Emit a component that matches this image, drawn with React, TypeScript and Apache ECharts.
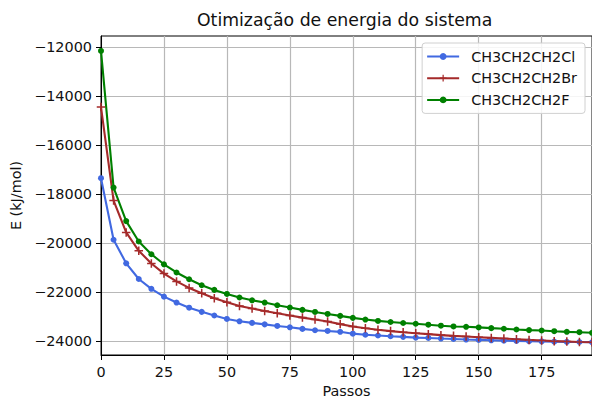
import React, { useEffect, useRef } from "react";
import * as echarts from "echarts";

const steps = [
  0, 5, 10, 15, 20, 25, 30, 35, 40, 45, 50, 55, 60, 65, 70, 75, 80, 85, 90, 95,
  100, 105, 110, 115, 120, 125, 130, 135, 140, 145, 150, 155, 160, 165, 170, 175, 180, 185, 190, 195,
];

const clValues = [
  -17350, -19860, -20820, -21460, -21860, -22180, -22420, -22630, -22800, -22950,
  -23090, -23185, -23250, -23310, -23375, -23430, -23495, -23550, -23580, -23615,
  -23690, -23735, -23765, -23795, -23820, -23850, -23865, -23890, -23905, -23930,
  -23945, -23960, -23975, -23985, -24000, -24005, -24015, -24025, -24030, -24040,
];

const brValues = [
  -14450, -18260, -19560, -20310, -20830, -21240, -21560, -21825, -22040, -22245,
  -22410, -22560, -22665, -22765, -22860, -22950, -23035, -23115, -23195, -23300,
  -23400, -23470, -23530, -23585, -23630, -23670, -23710, -23750, -23780, -23808,
  -23835, -23862, -23890, -23917, -23945, -23970, -23995, -24012, -24028, -24040,
];

const fValues = [
  -12160, -17730, -19100, -19930, -20450, -20860, -21195, -21470, -21715, -21905,
  -22070, -22215, -22330, -22420, -22530, -22625, -22720, -22805, -22885, -22965,
  -23045, -23115, -23170, -23215, -23255, -23285, -23325, -23365, -23395, -23410,
  -23435, -23465, -23490, -23520, -23545, -23560, -23590, -23615, -23630, -23655,
];

const seriesNames = ["CH3CH2CH2Cl", "CH3CH2CH2Br", "CH3CH2CH2F"];
const yTicks = [-24000, -22000, -20000, -18000, -16000, -14000, -12000];

const FONT = "DejaVu Sans";
const FS = 14.4;
const PLUS =
  "path://M4.1,0 H5.9 V4.1 H10 V5.9 H5.9 V10 H4.1 V5.9 H0 V4.1 H4.1 Z";

export default function App() {
  const ref = useRef<HTMLDivElement>(null);
  useEffect(() => {
    if (!ref.current) return;
    const chart = echarts.init(ref.current, undefined, { renderer: "svg" });
    const mk = (arr: number[]) => steps.map((s, i) => [s, arr[i]]);
    chart.setOption({
      animation: false,
      backgroundColor: "#ffffff",
      textStyle: { fontFamily: FONT },
      title: {
        text: "Otimização de energia do sistema",
        left: 197,
        top: 11,
        padding: 0,
        textStyle: { fontFamily: FONT, fontSize: 17.3, fontWeight: "normal", color: "#111" },
      },
      legend: {
        orient: "vertical",
        right: 7,
        top: 43,
        padding: [5, 8, 5, 4],
        itemWidth: 32,
        itemHeight: 8.5,
        itemGap: 4.7,
        backgroundColor: "rgba(255,255,255,0.85)",
        borderColor: "#d0d0d0",
        borderWidth: 1,
        borderRadius: 3,
        textStyle: {
          fontFamily: FONT,
          fontSize: FS,
          lineHeight: 17,
          color: "#111",
          padding: [0, 0, 0, 7],
        },
        data: seriesNames,
      },
      grid: {
        left: 101,
        right: 0,
        top: 36,
        bottom: 43,
        show: true,
        borderColor: "#000",
        borderWidth: 1,
        containLabel: false,
        outerBoundsMode: "none",
      },
      xAxis: {
        type: "value",
        min: 0,
        max: 195,
        interval: 25,
        name: "Passos",
        nameLocation: "middle",
        nameGap: 29,
        nameTextStyle: { fontFamily: FONT, fontSize: FS, color: "#111" },
        axisLine: { show: true, lineStyle: { color: "#000", width: 1 } },
        axisTick: { show: true, inside: false, length: 5, lineStyle: { color: "#000", width: 1 } },
        axisLabel: { fontFamily: FONT, fontSize: FS, color: "#111", margin: 10, showMaxLabel: false },
        splitLine: { show: true, lineStyle: { color: "#b8b8b8", width: 1.2 } },
      },
      yAxis: {
        type: "value",
        min: -24560,
        max: -11550,
        name: "E (kJ/mol)",
        nameLocation: "middle",
        nameGap: 72,
        nameTextStyle: { fontFamily: FONT, fontSize: FS, color: "#111" },
        axisLine: { show: true, lineStyle: { color: "#000", width: 1 } },
        axisTick: {
          show: true,
          inside: false,
          length: 5,
          customValues: yTicks,
          lineStyle: { color: "#000", width: 1 },
        },
        axisLabel: {
          fontFamily: FONT,
          fontSize: FS,
          color: "#111",
          margin: 9,
          customValues: yTicks,
          formatter: (v: number) => String(v).replace("-", "\u2212"),
        },
        splitLine: { show: true, lineStyle: { color: "#b8b8b8", width: 1.2 } },
      },
      series: [
        {
          name: seriesNames[0],
          type: "line",
          data: mk(clValues),
          symbol: "circle",
          symbolSize: 6,
          showAllSymbol: true,
          lineStyle: { color: "#4169e1", width: 2.1 },
          itemStyle: { color: "#4169e1" },
        },
        {
          name: seriesNames[1],
          type: "line",
          data: mk(brValues),
          symbol: PLUS,
          symbolSize: 8.5,
          showAllSymbol: true,
          lineStyle: { color: "#a52a2a", width: 2.1 },
          itemStyle: { color: "#a52a2a" },
        },
        {
          name: seriesNames[2],
          type: "line",
          data: mk(fValues),
          symbol: "circle",
          symbolSize: 6,
          showAllSymbol: true,
          lineStyle: { color: "#008000", width: 2.1 },
          itemStyle: { color: "#008000" },
        },
      ],
    });
    return () => chart.dispose();
  }, []);
  return (
    <div
      ref={ref}
      style={{ position: "absolute", left: 0, top: 0, width: 592, height: 398 }}
    />
  );
}
